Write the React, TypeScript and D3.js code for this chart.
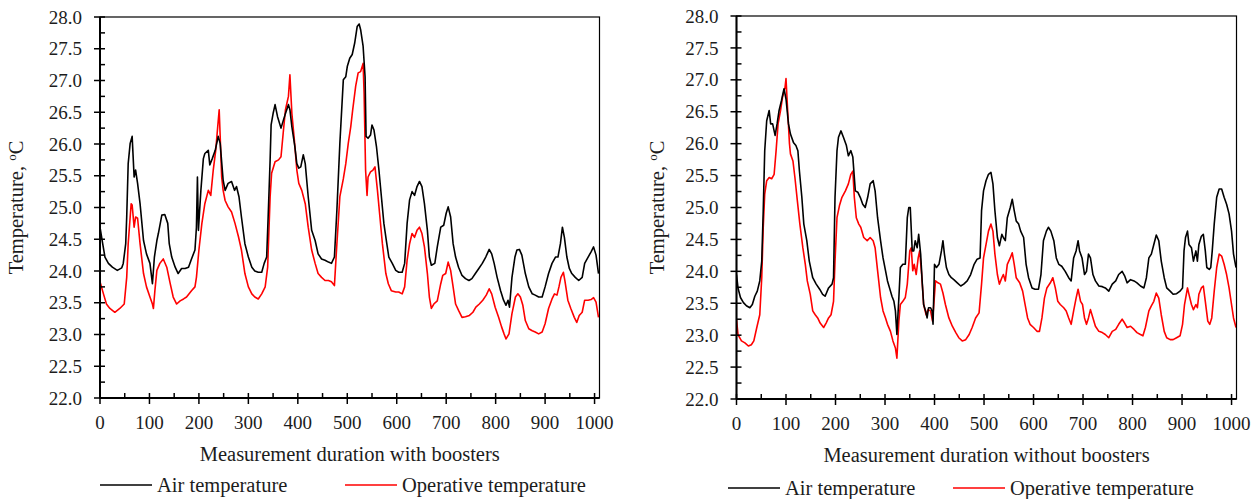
import React from "react";
import * as d3 from "d3";

type Pt = [number, number];

// Temperature readings, [measurement step, °C]
const airWithBoosters: Pt[] = [
  [0,24.69],[5,24.45],[10,24.22],[17,24.12],[25,24.06],[35,24.01],[44,24.05],[47,24.12],[52,24.43],[54,24.85],[57,25.69],[61,26.01],[65,26.12],[69,25.48],[72,25.59],[76,25.38],[81,25.06],[88,24.48],[94,24.27],[101,24.12],[106,23.8],[110,24.22],[115,24.48],[118,24.59],[125,24.88],[131,24.89],[137,24.75],[140,24.43],[145,24.22],[152,24.06],[158,23.96],[165,24.04],[172,24.04],[179,24.06],[185,24.19],[192,24.33],[195,24.69],[197,25.48],[199,24.64],[204,25.27],[209,25.77],[212,25.85],[219,25.9],[222,25.67],[227,25.77],[233,25.9],[236,26.01],[239,26.12],[243,26.01],[249,25.43],[253,25.27],[259,25.38],[266,25.41],[272,25.27],[276,25.33],[281,25.17],[286,24.85],[293,24.43],[300,24.22],[307,24.06],[313,24.0],[320,23.98],[327,23.98],[332,24.12],[337,24.22],[340,24.85],[344,25.75],[346,26.3],[350,26.48],[354,26.62],[359,26.43],[366,26.25],[371,26.38],[375,26.48],[381,26.62],[384,26.54],[388,26.27],[394,25.96],[398,25.69],[402,25.62],[406,25.64],[411,25.83],[415,25.69],[421,25.17],[428,24.64],[435,24.48],[441,24.27],[448,24.19],[455,24.17],[462,24.14],[468,24.12],[474,24.22],[479,24.96],[485,26.01],[492,27.01],
  [497,27.06],[500,27.22],[505,27.35],[510,27.41],[515,27.59],[520,27.85],[524,27.89],[527,27.8],[532,27.54],[536,27.06],[538,26.12],[542,26.09],[547,26.14],[550,26.3],[554,26.22],[559,25.96],[564,25.59],[569,25.17],[574,24.75],[579,24.48],[584,24.22],[591,24.12],[598,24.01],[604,23.98],[611,23.98],[616,24.12],[621,24.75],[626,25.12],[631,25.25],[636,25.19],[641,25.33],[646,25.41],[651,25.33],[656,25.06],[662,24.64],[666,24.22],[670,24.09],[677,24.12],[682,24.38],[689,24.69],[695,24.72],[700,24.91],[704,25.01],[709,24.85],[714,24.43],[719,24.22],[725,24.06],[732,23.93],[739,23.88],[746,23.85],[752,23.88],[759,23.96],[766,24.04],[773,24.12],[780,24.22],[787,24.34],[792,24.27],[797,24.12],[803,23.9],[810,23.69],[816,23.54],[821,23.46],[825,23.54],[828,23.43],[833,23.9],[839,24.22],[843,24.33],[848,24.34],[853,24.25],[860,23.96],[867,23.75],[874,23.64],[880,23.62],[887,23.59],[894,23.59],[900,23.75],[907,23.96],[914,24.12],[921,24.22],[926,24.22],[931,24.43],[935,24.69],[939,24.53],[944,24.22],[949,24.04],[954,23.96],[961,23.9],[968,23.85],[975,23.9],[980,24.12],[987,24.22],[993,24.3],[998,24.38],[1003,24.25],[1008,23.96],
];

const operativeWithBoosters: Pt[] = [
  [0,23.83],[7,23.64],[13,23.48],[20,23.41],[30,23.35],[40,23.41],[49,23.48],[54,23.9],[57,24.43],[63,25.06],[65,25.04],[69,24.69],[72,24.85],[76,24.83],[81,24.43],[88,23.96],[94,23.75],[101,23.59],[106,23.48],[108,23.41],[111,23.69],[115,24.01],[121,24.12],[128,24.19],[135,24.06],[142,23.8],[148,23.59],[155,23.48],[162,23.53],[169,23.56],[175,23.59],[185,23.69],[192,23.75],[195,23.9],[200,24.33],[206,24.75],[212,25.06],[219,25.27],[224,25.19],[229,25.59],[234,25.9],[238,26.27],[241,26.54],[243,26.12],[246,25.48],[249,25.27],[253,25.11],[259,25.01],[266,24.93],[273,24.75],[280,24.54],[286,24.33],[293,23.96],[300,23.75],[307,23.64],[313,23.59],[320,23.56],[327,23.64],[334,23.75],[339,24.06],[344,25.17],[347,25.54],[354,25.72],[361,25.75],[366,25.8],[371,26.22],[375,26.54],[381,26.75],[384,27.09],[388,26.48],[393,26.06],[398,25.59],[402,25.38],[408,25.27],[415,25.06],[421,24.69],[428,24.33],[435,24.12],[441,23.96],[448,23.9],[455,23.85],[462,23.85],[468,23.83],[474,23.77],[479,24.43],[485,25.17],[492,25.45],
  [497,25.69],[502,26.01],[507,26.27],[511,26.54],[517,26.91],[522,27.12],[527,27.14],[532,27.27],[534,26.8],[537,25.59],[540,25.19],[542,25.48],[547,25.56],[552,25.59],[556,25.64],[561,25.27],[566,24.85],[571,24.43],[578,23.96],[583,23.8],[589,23.69],[598,23.67],[604,23.67],[611,23.64],[616,23.75],[621,24.17],[626,24.43],[631,24.59],[636,24.53],[641,24.64],[646,24.69],[651,24.59],[656,24.38],[662,23.96],[666,23.59],[670,23.41],[675,23.48],[682,23.53],[689,23.8],[693,23.93],[699,23.96],[704,24.14],[709,24.01],[714,23.75],[719,23.48],[725,23.38],[732,23.27],[739,23.28],[747,23.3],[754,23.35],[760,23.43],[767,23.48],[774,23.54],[781,23.62],[787,23.72],[792,23.64],[799,23.43],[806,23.27],[812,23.12],[817,23.01],[821,22.93],[827,23.01],[833,23.33],[840,23.59],[845,23.64],[850,23.59],[855,23.46],[860,23.22],[867,23.09],[874,23.06],[880,23.04],[887,23.01],[894,23.04],[900,23.17],[907,23.41],[914,23.56],[919,23.64],[924,23.62],[928,23.75],[932,23.9],[937,23.98],[940,23.85],[946,23.54],[952,23.41],[959,23.27],[964,23.19],[969,23.3],[975,23.35],[980,23.54],[987,23.54],[993,23.55],[998,23.58],[1003,23.51],[1008,23.27],
];

const airWithoutBoosters: Pt[] = [
  [0,23.95],[3,23.74],[8,23.59],[14,23.51],[20,23.46],[27,23.43],[32,23.48],[37,23.61],[42,23.69],[47,23.85],[51,24.16],[54,24.95],[57,25.89],[61,26.36],[66,26.52],[69,26.31],[73,26.31],[78,26.13],[82,26.31],[86,26.52],[91,26.68],[96,26.86],[100,26.7],[105,26.31],[109,26.15],[115,26.02],[120,25.97],[124,25.89],[127,25.58],[132,25.16],[136,24.74],[142,24.48],[147,24.16],[154,23.9],[161,23.8],[168,23.72],[174,23.64],[179,23.61],[186,23.74],[193,23.8],[196,23.9],[199,25.16],[203,25.89],[206,26.1],[211,26.2],[216,26.1],[222,25.97],[226,25.81],[231,25.89],[235,25.79],[240,25.26],[245,25.24],[250,25.16],[255,25.05],[260,25.0],[265,25.16],[270,25.37],[276,25.42],[280,25.26],[285,24.84],[291,24.48],[296,24.21],[301,24.01],[305,23.85],[311,23.69],[314,23.61],[318,23.53],[321,23.38],[324,23.01],[328,23.59],[331,24.06],[336,24.11],[341,24.11],[345,24.84],[348,25.0],[351,25.0],[355,24.32],[358,24.32],[361,24.48],[365,24.37],[368,24.58],[372,24.27],[375,23.85],[378,23.48],[382,23.38],[385,23.27],[388,23.43],[392,23.43],[395,23.38],[397,23.17],[400,24.11],[404,24.06],[409,24.11],[414,24.32],[417,24.48],[420,24.27],[424,24.06],[429,23.95],[434,23.9],[439,23.87],[446,23.82],[453,23.77],[459,23.8],[466,23.85],[473,23.95],[480,24.11],[486,24.19],[492,24.21],
  [495,24.95],[499,25.26],[504,25.42],[509,25.52],[514,25.55],[518,25.37],[522,24.95],[527,24.53],[531,24.4],[536,24.58],[539,24.53],[543,24.48],[547,24.84],[553,25.0],[557,25.13],[561,24.95],[565,24.79],[570,24.74],[574,24.63],[580,24.53],[585,24.11],[590,23.9],[597,23.74],[603,23.72],[610,23.72],[615,23.95],[620,24.48],[626,24.63],[630,24.69],[635,24.63],[641,24.48],[646,24.21],[651,24.11],[657,24.08],[664,24.0],[671,23.9],[676,23.85],[681,24.21],[686,24.32],[690,24.48],[693,24.32],[698,24.21],[703,23.95],[707,24.0],[711,24.27],[715,24.21],[720,23.95],[725,23.85],[732,23.77],[739,23.76],[745,23.74],[752,23.69],[759,23.8],[766,23.85],[772,23.95],[779,24.0],[784,23.93],[789,23.82],[796,23.87],[803,23.85],[809,23.82],[816,23.77],[823,23.74],[828,23.9],[833,24.21],[838,24.27],[843,24.42],[848,24.57],[853,24.48],[858,24.16],[864,23.9],[869,23.74],[876,23.69],[882,23.64],[889,23.65],[896,23.69],[901,23.74],[904,24.32],[907,24.53],[911,24.63],[914,24.42],[919,24.37],[923,24.16],[928,24.32],[931,24.16],[934,24.42],[939,24.55],[943,24.58],[947,24.32],[950,24.06],[955,24.03],[958,24.06],[961,24.32],[965,24.74],[970,25.16],[975,25.29],[980,25.29],[985,25.16],[990,25.05],[995,24.9],[1000,24.63],[1004,24.27],[1009,24.06],
];

const operativeWithoutBoosters: Pt[] = [
  [0,23.25],[3,23.01],[10,22.91],[17,22.88],[24,22.83],[30,22.85],[35,22.91],[41,23.12],[47,23.32],[51,23.9],[54,24.69],[57,25.21],[61,25.42],[66,25.47],[71,25.45],[76,25.52],[80,25.89],[84,26.31],[89,26.52],[93,26.73],[98,26.88],[100,27.02],[103,26.57],[107,26.0],[109,25.84],[114,25.73],[118,25.47],[123,25.1],[128,24.74],[134,24.37],[139,24.11],[143,23.85],[149,23.64],[154,23.38],[159,23.32],[164,23.27],[169,23.19],[176,23.12],[181,23.19],[186,23.27],[191,23.32],[196,23.53],[199,24.16],[203,24.84],[208,25.03],[213,25.16],[220,25.26],[226,25.37],[231,25.52],[235,25.57],[238,25.16],[242,24.84],[247,24.74],[251,24.69],[257,24.53],[264,24.48],[270,24.53],[276,24.48],[280,24.37],[285,24.01],[291,23.59],[296,23.38],[301,23.27],[305,23.17],[311,23.06],[316,22.91],[321,22.8],[324,22.64],[328,23.22],[331,23.48],[336,23.53],[341,23.59],[345,23.8],[350,24.32],[353,24.37],[356,24.01],[359,24.11],[363,23.95],[367,24.21],[370,24.32],[374,23.95],[378,23.48],[383,23.32],[387,23.4],[392,23.38],[396,23.22],[399,23.53],[402,23.85],[407,23.82],[412,23.8],[417,23.66],[422,23.48],[429,23.27],[436,23.14],[443,23.04],[449,22.96],[456,22.91],[463,22.93],[470,23.01],[476,23.12],[483,23.27],[490,23.35],
  [495,23.8],[499,24.21],[504,24.42],[509,24.63],[514,24.74],[518,24.63],[522,24.27],[527,23.95],[531,23.8],[536,23.9],[539,23.95],[543,23.85],[547,24.11],[553,24.21],[557,24.29],[561,24.11],[565,23.9],[572,23.82],[578,23.69],[583,23.48],[588,23.27],[593,23.17],[600,23.12],[607,23.06],[612,23.06],[617,23.27],[622,23.58],[627,23.74],[634,23.82],[639,23.9],[644,23.74],[649,23.53],[654,23.48],[661,23.43],[666,23.38],[671,23.27],[676,23.17],[681,23.38],[686,23.58],[690,23.72],[695,23.53],[699,23.48],[703,23.27],[707,23.17],[711,23.27],[715,23.4],[720,23.27],[725,23.14],[732,23.06],[739,23.04],[745,23.01],[752,22.96],[759,23.06],[766,23.09],[772,23.17],[779,23.25],[784,23.19],[789,23.12],[796,23.14],[803,23.09],[809,23.04],[816,23.01],[821,22.99],[826,23.12],[833,23.38],[838,23.46],[843,23.53],[848,23.66],[853,23.58],[858,23.32],[864,23.06],[869,22.96],[876,22.93],[882,22.93],[889,22.96],[896,22.99],[901,23.17],[905,23.48],[911,23.74],[914,23.64],[919,23.48],[923,23.4],[928,23.48],[931,23.43],[934,23.64],[939,23.74],[943,23.77],[947,23.53],[952,23.22],[956,23.17],[960,23.27],[965,23.69],[970,24.06],[975,24.27],[980,24.24],[985,24.11],[990,23.95],[995,23.74],[1000,23.48],[1004,23.27],[1009,23.12],
];

const yMajorTicks = [22, 22.5, 23, 23.5, 24, 24.5, 25, 25.5, 26, 26.5, 27, 27.5, 28];
const yMinorTicks = [22.25, 22.75, 23.25, 23.75, 24.25, 24.75, 25.25, 25.75, 26.25, 26.75, 27.25, 27.75];
const xMajorTicks = [0, 100, 200, 300, 400, 500, 600, 700, 800, 900, 1000];
const xMinorTicks = [50, 150, 250, 350, 450, 550, 650, 750, 850, 950];

const seriesNames = ["Air temperature", "Operative temperature"];
const seriesColors = ["#000000", "#ff0000"];
const xTitles = ["Measurement duration with boosters", "Measurement duration without boosters"];

const FONT = "'Liberation Serif', 'Times New Roman', serif";
const TEXT = "#1c1c1c";

interface PanelProps {
  x0: number;
  x1: number;
  y0: number;
  y1: number;
  air: Pt[];
  operative: Pt[];
  xTitle: string;
  yTitleX: number;
  legendY: number;
  legendAirX: number;
  legendOpX: number;
  clipId: string;
}

function Panel(p: PanelProps) {
  const x = d3.scaleLinear().domain([0, 1010]).range([p.x0, p.x1]);
  const y = d3.scaleLinear().domain([22, 28]).range([p.y1, p.y0]);
  const line = d3
    .line<Pt>()
    .x((d) => x(d[0]))
    .y((d) => y(d[1]));
  const midY = (p.y0 + p.y1) / 2;
  const midX = (p.x0 + p.x1) / 2;

  return (
    <g>
      <defs>
        <clipPath id={p.clipId}>
          <rect x={p.x0} y={p.y0} width={p.x1 - p.x0} height={p.y1 - p.y0} />
        </clipPath>
      </defs>

      <g clipPath={`url(#${p.clipId})`} fill="none" strokeWidth={1.6} strokeLinejoin="round">
        <path d={line(p.operative) || ""} stroke={seriesColors[1]} />
        <path d={line(p.air) || ""} stroke={seriesColors[0]} />
      </g>

      {/* frame */}
      <rect
        x={p.x0}
        y={p.y0}
        width={p.x1 - p.x0}
        height={p.y1 - p.y0}
        fill="none"
        stroke="#000"
        strokeWidth={1.2}
      />
      <line x1={p.x0} x2={p.x0} y1={p.y0} y2={p.y1} stroke="#000" strokeWidth={2} />
      <line x1={p.x0} x2={p.x1} y1={p.y1} y2={p.y1} stroke="#000" strokeWidth={2} />

      {/* y ticks */}
      {yMajorTicks.map((v) => (
        <g key={`ym${v}`}>
          <line x1={p.x0 - 6} x2={p.x0 + 5} y1={y(v)} y2={y(v)} stroke="#000" strokeWidth={1.5} />
          <text
            x={p.x0 - 18}
            y={y(v)}
            dy="0.35em"
            textAnchor="end"
            fontFamily={FONT}
            fontSize={19}
            fill={TEXT}
          >
            {v.toFixed(1)}
          </text>
        </g>
      ))}
      {yMinorTicks.map((v) => (
        <line key={`yn${v}`} x1={p.x0} x2={p.x0 + 5} y1={y(v)} y2={y(v)} stroke="#000" strokeWidth={1.5} />
      ))}

      {/* x ticks */}
      {xMajorTicks.map((v) => (
        <g key={`xm${v}`}>
          <line x1={x(v)} x2={x(v)} y1={p.y1 - 5} y2={p.y1 + 6} stroke="#000" strokeWidth={1.5} />
          <text
            x={x(v)}
            y={p.y1 + 31}
            textAnchor="middle"
            fontFamily={FONT}
            fontSize={19}
            fill={TEXT}
          >
            {v}
          </text>
        </g>
      ))}
      {xMinorTicks.map((v) => (
        <line key={`xn${v}`} x1={x(v)} x2={x(v)} y1={p.y1 - 5} y2={p.y1} stroke="#000" strokeWidth={1.5} />
      ))}

      {/* axis titles */}
      <text
        x={midX}
        y={p.y1 + 63}
        textAnchor="middle"
        fontFamily={FONT}
        fontSize={20.5}
        fill={TEXT}
      >
        {p.xTitle}
      </text>
      <text
        transform={`translate(${p.yTitleX},${midY}) rotate(-90)`}
        textAnchor="middle"
        fontFamily={FONT}
        fontSize={20.5}
        fill={TEXT}
      >
        Temperature,{" "}
        <tspan fontSize={13} dy="-7">o</tspan>
        <tspan dy="7">C</tspan>
      </text>

      {/* legend */}
      {[p.legendAirX, p.legendOpX].map((lx, i) => (
        <g key={seriesNames[i]}>
          <line
            x1={lx}
            x2={lx + 52}
            y1={p.legendY}
            y2={p.legendY}
            stroke={seriesColors[i]}
            strokeWidth={1.7}
          />
          <text
            x={lx + 57}
            y={p.legendY}
            dy="0.33em"
            fontFamily={FONT}
            fontSize={20.5}
            fill={TEXT}
          >
            {seriesNames[i]}
          </text>
        </g>
      ))}
    </g>
  );
}

export default function App() {
  return (
    <div style={{ position: "absolute", left: 0, top: 0 }}>
      <svg width={1260} height={499} style={{ display: "block", background: "#fff" }}>
        <Panel
          x0={100}
          x1={599.5}
          y0={17}
          y1={398}
          air={airWithBoosters}
          operative={operativeWithBoosters}
          xTitle={xTitles[0]}
          yTitleX={23}
          legendY={485}
          legendAirX={100}
          legendOpX={345}
          clipId="clip-with"
        />
        <Panel
          x0={736.5}
          x1={1236.5}
          y0={16}
          y1={399}
          air={airWithoutBoosters}
          operative={operativeWithoutBoosters}
          xTitle={xTitles[1]}
          yTitleX={664}
          legendY={488}
          legendAirX={728}
          legendOpX={953}
          clipId="clip-without"
        />
      </svg>
    </div>
  );
}
